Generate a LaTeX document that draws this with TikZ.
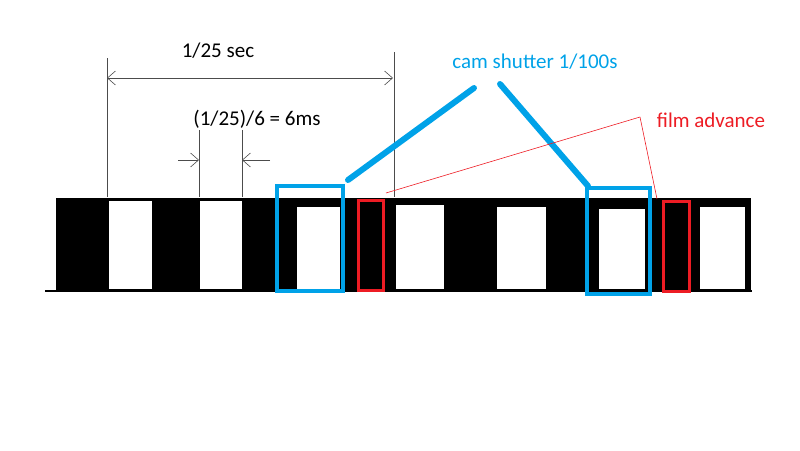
\documentclass[tikz,border=0pt]{standalone}
\usepackage{fontspec}
\setmainfont{Carlito}
\usetikzlibrary{arrows.meta}
\definecolor{cblue}{RGB}{0,162,232}
\definecolor{cred}{RGB}{237,28,36}
\begin{document}
\begin{tikzpicture}[x=1pt,y=-1pt,
  win/.style={fill=white,draw=black,line width=0.8pt},
  dim/.style={draw=black!70,line width=0.6pt},
  lbl/.style={font=\fontsize{21}{24}\selectfont,inner sep=0pt}]
\useasboundingbox (0,0) rectangle (800,450);
% strip
\fill[black] (56,198) rectangle (751,291);
\draw[line width=2pt] (45,291) -- (752,291);
\foreach \a/\b/\t in {108/152/200,199/242/200,296/340/206,395/444/204,496/546/206,598/645/208,699/745/206}
  \draw[win] (\a,\t) rectangle (\b,289);
% dimensions
\coordinate (d1t) at (107,58); \coordinate (d1b) at (107,197);
\coordinate (d2t) at (394,52); \coordinate (d2b) at (394,197);
\draw[dim] (d1t) -- (d1b); \draw[dim] (d2t) -- (d2b);
\coordinate (a1) at (107,78); \coordinate (a2) at (393,78);
\draw[dim,{Straight Barb[length=8pt,width=14pt]}-{Straight Barb[length=8pt,width=14pt]}] (a1) -- (a2);
\node[lbl] (t1) at (218,51) {1/25 sec};
\coordinate (e1t) at (199,130); \coordinate (e1b) at (199,197);
\coordinate (e2t) at (242,130); \coordinate (e2b) at (242,197);
\draw[dim] (e1t) -- (e1b); \draw[dim] (e2t) -- (e2b);
\coordinate (l1) at (178,160); \coordinate (l2) at (270,160);
\draw[dim,-{Straight Barb[length=8pt,width=14pt]}] (l1) -- (e1t |- l1);
\draw[dim,-{Straight Barb[length=8pt,width=14pt]}] (l2) -- (e2t |- l2);
\node[lbl] (t2) at (257,119) {(1/25)/6 = 6ms};
% blue
\draw[cblue,line width=4pt] (277,186) rectangle (343,291);
\draw[cblue,line width=4pt] (587,188) rectangle (650,294);
\draw[cblue,line width=6pt,line cap=round] (348,180) -- (474,88);
\draw[cblue,line width=6pt,line cap=round] (500,84) -- (588,186);
\node[lbl,text=cblue] (t3) at (535,62) {cam shutter 1/100s};
% red
\draw[cred,line width=3pt] (358,200) rectangle (383,290);
\draw[cred,line width=3pt] (663,201) rectangle (689,291);
\coordinate (r0) at (640,117);
\draw[cred,line width=0.6pt] (r0) -- (386,193);
\draw[cred,line width=0.6pt] (r0) -- (657,199);
\node[lbl,text=cred] (t4) at (711,120) {film advance};
\end{tikzpicture}
\end{document}
